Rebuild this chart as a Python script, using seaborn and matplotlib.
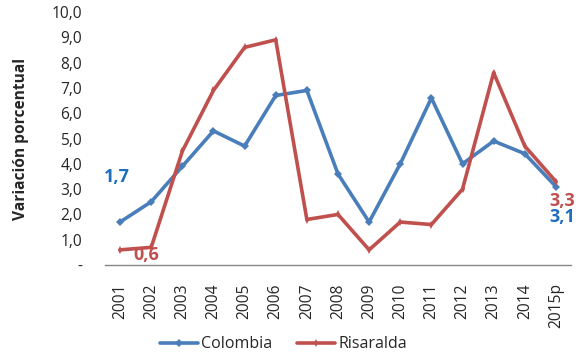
import pandas as pd
import seaborn as sns
import matplotlib
matplotlib.use('Agg')
import matplotlib.pyplot as plt
from matplotlib.ticker import FuncFormatter

# %% data
years = ['2001', '2002', '2003', '2004', '2005', '2006', '2007', '2008',
         '2009', '2010', '2011', '2012', '2013', '2014', '2015p']
colombia = [1.7, 2.5, 3.9, 5.3, 4.7, 6.7, 6.9, 3.6, 1.7, 4.0, 6.6, 4.0, 4.9, 4.4, 3.1]
risaralda = [0.6, 0.7, 4.5, 6.9, 8.6, 8.9, 1.8, 2.0, 0.6, 1.7, 1.6, 3.0, 7.6, 4.7, 3.3]
series = ['Colombia', 'Risaralda']
yticks = [0, 1, 2, 3, 4, 5, 6, 7, 8, 9, 10]

df = pd.DataFrame({
    'year': years * 2,
    'value': colombia + risaralda,
    'serie': [series[0]] * len(years) + [series[1]] * len(years),
})

blue = '#4A7EBB'
red = '#C0504D'


def fmt(v):
    return ('%.1f' % v).replace('.', ',')


# %% plot
sns.set_style('white')
plt.rcParams['font.family'] = ['Open Sans', 'DejaVu Sans']

fig = plt.figure(figsize=(5.79, 3.52), dpi=100)
ax = fig.add_axes([0.1805, 0.247, 0.8065, 0.719])

sns.lineplot(data=df, x='year', y='value', hue='serie', style='serie',
             palette=[blue, red], markers=['D', 'd'], dashes=False,
             linewidth=2.6, markersize=4, markeredgewidth=0,
             sort=False, legend=True, ax=ax)

ax.set_xlim(-0.5, len(years) - 0.5)
ax.set_ylim(0, 10)
ax.set_yticks(yticks)
ax.yaxis.set_major_formatter(FuncFormatter(
    lambda v, p: '-' if v == 0 else fmt(v)))
ax.tick_params(axis='y', length=0, pad=16, labelsize=11.2)
ax.tick_params(axis='x', length=0, pad=13, labelsize=11.2, rotation=90)
ax.set_xlabel('')
ax.set_ylabel('Variación porcentual', fontsize=11.2, fontweight='bold', labelpad=16)

for s in ['top', 'right', 'left']:
    ax.spines[s].set_visible(False)
ax.spines['bottom'].set_color('#868686')
ax.spines['bottom'].set_linewidth(1)

# data labels, first and last points
ax.text(-0.1, colombia[0] + 1.78, fmt(colombia[0]),
        color='#1F6FBF', fontsize=13, fontweight='bold', ha='center', va='center')
ax.text(0.85, risaralda[0] - 0.2, fmt(risaralda[0]),
        color=red, fontsize=13, fontweight='bold', ha='center', va='center')
ax.text(14.2, risaralda[-1] - 0.75, fmt(risaralda[-1]),
        color=red, fontsize=13, fontweight='bold', ha='center', va='center')
ax.text(14.2, colombia[-1] - 1.2, fmt(colombia[-1]),
        color='#1F6FBF', fontsize=13, fontweight='bold', ha='center', va='center')

leg = ax.legend(loc='upper center', bbox_to_anchor=(0.383, -0.225), ncol=2,
                frameon=False, fontsize=11.5, handlelength=2.35,
                columnspacing=1.6, handletextpad=0.2)

plt.savefig('out.png', dpi=100)
